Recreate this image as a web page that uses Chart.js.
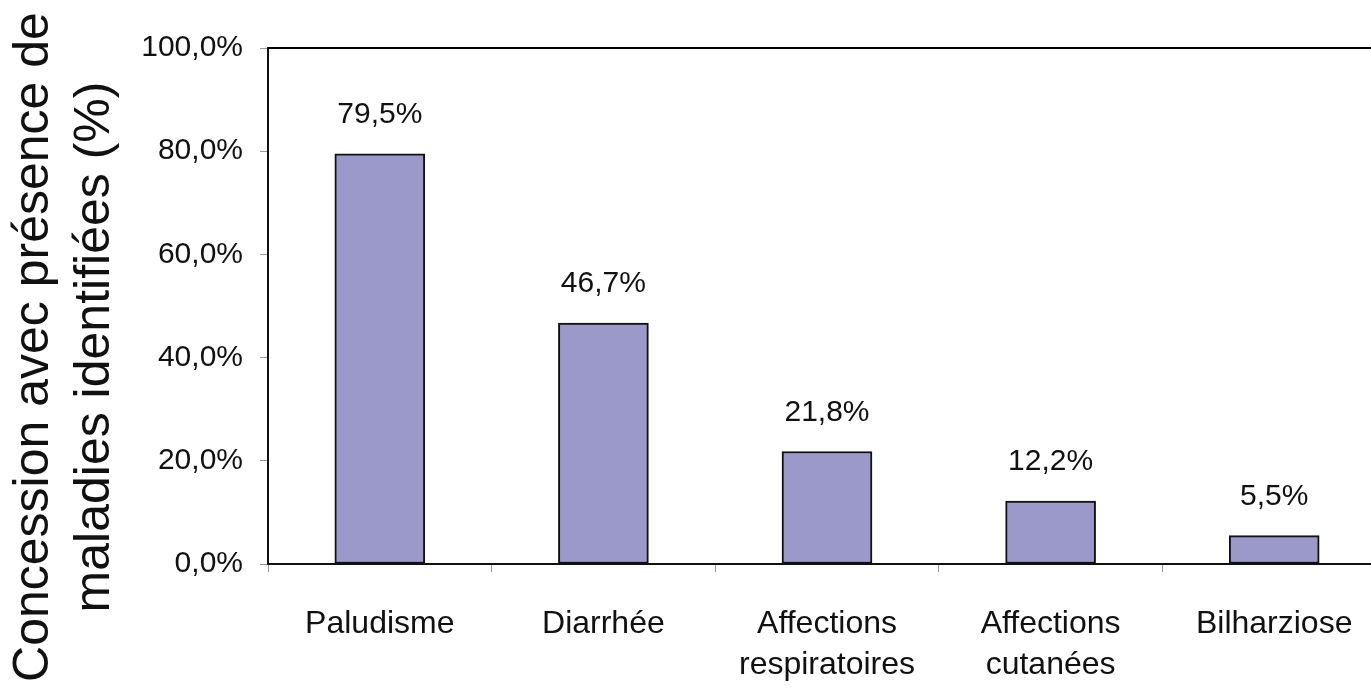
<!DOCTYPE html>
<html lang="fr">
<head>
<meta charset="utf-8">
<script src="https://cdn.jsdelivr.net/npm/chart.js@4/dist/chart.umd.min.js"></script>
<style>
  html, body { margin: 0; padding: 0; background: #fff; overflow: hidden; }
  #wrap { position: relative; width: 1390px; height: 691px; }
</style>
</head>
<body>
<div id="wrap"><canvas id="c"></canvas></div>
<script>
// Maladies identifiées dans les concessions
const categories = [
  'Paludisme',
  'Diarrhée',
  ['Affections', 'respiratoires'],
  ['Affections', 'cutanées'],
  'Bilharziose'
];
const values = [79.5, 46.7, 21.8, 12.2, 5.5];
const yTicks = [0, 20, 40, 60, 80, 100];
const yTitle = ['Concession avec présence de', 'maladies identifiées (%)'];

const FONT = '"Liberation Sans", Arial, Helvetica, sans-serif';
const fmt = v => v.toFixed(1).replace('.', ',') + '%';

// Cadre supérieur de la zone de tracé
const frame = {
  id: 'frame',
  afterDraw(chart) {
    const { ctx, chartArea: a } = chart;
    ctx.save();
    ctx.strokeStyle = '#000';
    ctx.lineWidth = 2;
    ctx.beginPath();
    ctx.moveTo(a.left, a.top);
    ctx.lineTo(a.right, a.top);
    ctx.lineTo(a.right, a.bottom);
    ctx.stroke();
    ctx.restore();
  }
};

// Valeurs au-dessus des barres
const barLabels = {
  id: 'barLabels',
  afterDatasetsDraw(chart) {
    const { ctx } = chart;
    const meta = chart.getDatasetMeta(0);
    ctx.save();
    ctx.font = '30px ' + FONT;
    ctx.fillStyle = '#111';
    ctx.textAlign = 'center';
    ctx.textBaseline = 'middle';
    meta.data.forEach((bar, i) => {
      ctx.fillText(fmt(values[i]), bar.x, bar.y - 39);
    });
    ctx.restore();
  }
};

// Titre de l'axe vertical sur deux lignes
const axisTitle = {
  id: 'axisTitle',
  afterDraw(chart) {
    const { ctx } = chart;
    ctx.save();
    ctx.font = '50px ' + FONT;
    ctx.fillStyle = '#111';
    ctx.textAlign = 'center';
    ctx.textBaseline = 'middle';
    const xs = [34, 95];
    yTitle.forEach((line, i) => {
      ctx.save();
      ctx.translate(xs[i], 347);
      ctx.rotate(-Math.PI / 2);
      ctx.fillText(line, 0, 0);
      ctx.restore();
    });
    ctx.restore();
  }
};

new Chart(document.getElementById('c'), {
  type: 'bar',
  data: {
    labels: categories,
    datasets: [{
      data: values,
      backgroundColor: '#9b99c9',
      borderColor: '#111',
      borderWidth: 2,
      borderSkipped: false,
      barThickness: 90
    }]
  },
  options: {
    responsive: true,
    maintainAspectRatio: false,
    animation: false,
    layout: { padding: { top: 48, right: 4, left: 0, bottom: 0 } },
    plugins: { legend: { display: false }, tooltip: { enabled: false } },
    scales: {
      x: {
        grid: {
          offset: true,
          drawOnChartArea: false,
          drawTicks: true,
          tickLength: 8,
          color: '#999',
          tickWidth: 1
        },
        border: { display: true, color: '#111', width: 2 },
        ticks: {
          color: '#111',
          font: { family: FONT, size: 32, lineHeight: 1.3 },
          padding: 31,
          maxRotation: 0,
          autoSkip: false
        },
        afterFit(scale) { scale.height = 127; }
      },
      y: {
        min: 0,
        max: 100,
        afterBuildTicks(scale) { scale.ticks = yTicks.map(v => ({ value: v })); },
        grid: {
          drawOnChartArea: false,
          drawTicks: true,
          tickLength: 8,
          color: '#999',
          tickWidth: 1
        },
        border: { display: true, color: '#111', width: 2 },
        ticks: {
          color: '#111',
          font: { family: FONT, size: 30 },
          padding: 17,
          callback: v => fmt(v)
        },
        afterFit(scale) { scale.width = 268; }
      }
    }
  },
  plugins: [frame, barLabels, axisTitle]
});
</script>
</body>
</html>
